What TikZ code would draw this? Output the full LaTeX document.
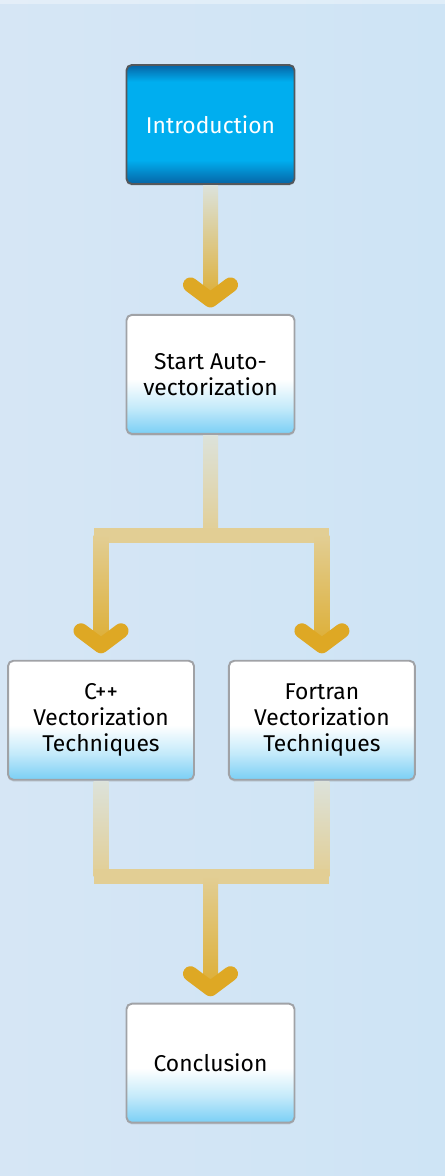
\documentclass[tikz,border=0pt]{standalone}
\usepackage{fontspec}
\setmainfont{Fira Sans}
\usetikzlibrary{calc,positioning,shadows}
\definecolor{bgleft}{RGB}{214,230,245}
\definecolor{bgright}{RGB}{206,228,245}
\definecolor{introblue}{RGB}{0,174,239}
\definecolor{introdark}{RGB}{6,100,165}
\definecolor{frame}{RGB}{160,162,166}
\definecolor{framedark}{RGB}{84,88,92}
\definecolor{skyfoot}{RGB}{122,207,245}
\definecolor{skyhalf}{RGB}{196,234,250}
\definecolor{linkpale}{RGB}{220,226,218}
\definecolor{linkmid}{RGB}{226,206,148}
\definecolor{linkgold}{RGB}{221,174,52}
\definecolor{tipgold}{RGB}{222,168,36}
\pgfdeclareverticalshading{topicfill}{100bp}{color(0bp)=(skyfoot); color(25bp)=(skyfoot); color(36bp)=(skyhalf); color(48bp)=(white); color(100bp)=(white)}
\pgfdeclareverticalshading{leadfill}{100bp}{color(0bp)=(introdark); color(25bp)=(introdark); color(35bp)=(introblue); color(68bp)=(introblue); color(75bp)=(introdark); color(100bp)=(introdark)}

\begin{document}
\begin{tikzpicture}[x=0.02cm, y=-0.02cm, node distance=2.58cm]
  \tikzset{
    topic/.style={draw=frame, line width=1.1pt, rounded corners=3pt, shading=topicfill,
                  minimum width=3.36cm, minimum height=2.38cm, align=center,
                  font=\fontsize{13}{14.8}\selectfont,
                  drop shadow={shadow xshift=0pt, shadow yshift=-1pt, opacity=0.25}},
    lead/.style={topic, draw=framedark, shading=leadfill, text=white},
    wide/.style={topic, minimum width=3.72cm},
    bar/.style={draw=linkmid, line width=0.3cm, line cap=rect},
    tip/.style={draw=tipgold, line width=0.3cm, line cap=round, line join=round}
  }
  \useasboundingbox (0,0) rectangle (445,1176);
  \shade[left color=bgleft, right color=bgright] (0,0) rectangle (445,1176);
  \fill[white, opacity=0.35] (0,0) rectangle (445,4);

  \node[lead] (intro) at (210.5,124.5) {Introduction};
  \node[topic, below=of intro] (start) {Start Auto-\\vectorization};
  \node[wide, below=4.5cm of start, xshift=-2.19cm] (cpp) {C++\\Vectorization\\Techniques};
  \node[wide, right=0.66cm of cpp] (fortran) {Fortran\\Vectorization\\Techniques};
  \node[topic, below=11.36cm of start] (concl) {Conclusion};
  \coordinate (fork) at (210.5,535);
  \coordinate (join) at (210.5,876);

  % intro -> start
  \shade[top color=linkpale, bottom color=linkgold] ($(intro.south)+(-7.5,1)$) rectangle ($(start.north)+(7.5,-14)$);
  \draw[tip] ($(start.north)+(-20,-29)$) -- ($(start.north)+(0,-14)$) -- ($(start.north)+(20,-29)$);

  % start -> cpp / fortran
  \shade[top color=linkpale, bottom color=linkmid] ($(start.south)+(-7.5,1)$) rectangle ($(fork)+(7.5,0)$);
  \draw[bar] (fork -| cpp) -- (fork -| fortran);
  \shade[top color=linkmid, bottom color=linkgold] ($(fork -| cpp)+(-7.5,0)$) rectangle ($(cpp.north)+(7.5,-14)$);
  \shade[top color=linkmid, bottom color=linkgold] ($(fork -| fortran)+(-7.5,0)$) rectangle ($(fortran.north)+(7.5,-14)$);
  \draw[tip] ($(cpp.north)+(-20,-29)$) -- ($(cpp.north)+(0,-14)$) -- ($(cpp.north)+(20,-29)$);
  \draw[tip] ($(fortran.north)+(-20,-29)$) -- ($(fortran.north)+(0,-14)$) -- ($(fortran.north)+(20,-29)$);

  % cpp / fortran -> conclusion
  \shade[top color=linkpale, bottom color=linkmid] ($(cpp.south)+(-7.5,1)$) rectangle ($(join -| cpp)+(7.5,0)$);
  \shade[top color=linkpale, bottom color=linkmid] ($(fortran.south)+(-7.5,1)$) rectangle ($(join -| fortran)+(7.5,0)$);
  \draw[bar] (join -| cpp) -- (join -| fortran);
  \shade[top color=linkmid, bottom color=linkgold] ($(join)+(-7.5,0)$) rectangle ($(concl.north)+(7.5,-14)$);
  \draw[tip] ($(concl.north)+(-20,-29)$) -- ($(concl.north)+(0,-14)$) -- ($(concl.north)+(20,-29)$);
\end{tikzpicture}
\end{document}
